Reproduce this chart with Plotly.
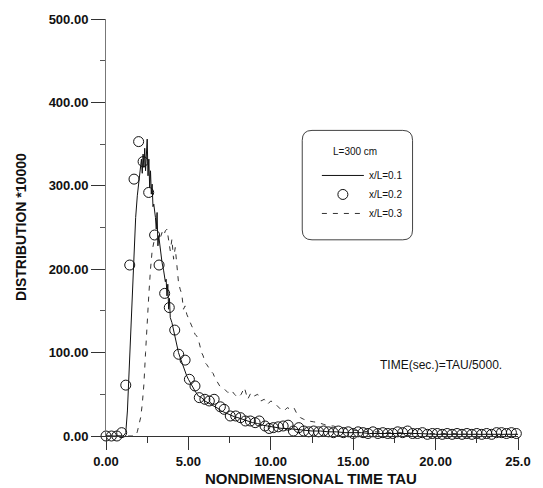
import plotly.graph_objects as go

# ---- data ----
tau_01 = [0.0, 0.5, 1.0, 1.1, 1.2, 1.3, 1.4, 1.5, 1.6, 1.7, 1.8, 1.9, 2.0, 2.1, 2.15, 2.2, 2.25, 2.3, 2.35,
          2.4, 2.45, 2.5, 2.55, 2.6, 2.65, 2.7, 2.75, 2.8, 2.85, 2.9, 3.0, 3.05, 3.1, 3.15, 3.2, 3.3, 3.4,
          3.5, 3.6, 3.65, 3.7, 3.75, 3.8, 3.85, 3.9, 4.0, 4.1, 4.2, 4.3, 4.4, 4.5, 4.6, 4.7, 4.8, 4.9, 5.0,
          5.2, 5.4, 5.6, 5.8, 6.0, 6.2, 6.4, 6.6, 6.8, 7.0, 7.2, 7.4, 7.6, 7.8, 8.0, 8.3, 8.6, 8.9, 9.2,
          9.5, 9.8, 10.1, 10.4, 10.7, 11.0, 11.5, 12.0, 12.5, 13.0, 13.5, 14.0, 14.5, 15.0, 15.5, 16.0,
          17.0, 18.0, 19.0, 20.0, 21.0, 22.0, 23.0, 24.0, 25.0]
dist_01 = [0, 0, 0, 1, 4, 30, 80, 135, 185, 228, 262, 288, 305, 318, 332, 315, 338, 322, 345,
           318, 336, 356, 312, 332, 298, 318, 290, 302, 275, 278, 262, 248, 268, 228, 240, 222, 208,
           198, 185, 188, 168, 182, 152, 165, 142, 136, 126, 118, 108, 100, 94, 88, 84, 78, 72, 68,
           60, 54, 48, 46, 42, 40, 38, 36, 33, 30, 28, 27, 25, 23, 22, 20, 18, 16, 15,
           13, 12, 11, 10, 9, 9, 8, 7, 6, 6, 5, 5, 4, 4, 4, 3,
           3, 3, 3, 2, 2, 2, 2, 2, 2]

tau_02 = [0.0, 0.33, 0.66, 0.95, 1.2, 1.44, 1.70, 1.98, 2.25, 2.59, 2.95, 3.22, 3.56, 3.84, 4.17, 4.41,
          4.8, 5.06, 5.4, 5.66, 6.0, 6.27, 6.56, 6.94, 7.17, 7.54, 7.87, 8.16, 8.46, 8.76, 9.05, 9.3,
          9.65, 9.9, 10.15, 10.45, 10.75, 11.05, 11.37, 11.7, 12.0, 12.3, 12.6, 12.9, 13.2, 13.5, 13.8,
          14.1, 14.4, 14.7, 15.0, 15.3, 15.6, 15.9, 16.2, 16.5, 16.8, 17.1, 17.4, 17.7, 18.0, 18.3,
          18.6, 18.9, 19.2, 19.5, 19.8, 20.1, 20.4, 20.7, 21.0, 21.3, 21.6, 21.9, 22.2, 22.5, 22.8,
          23.1, 23.4, 23.7, 24.0, 24.3, 24.6, 24.9]
dist_02 = [0, 0, 0, 4, 61, 205, 308, 353, 329, 292, 241, 205, 171, 154, 127, 98,
           91, 68, 60, 46, 44, 42, 44, 35, 32, 24, 24, 22, 18, 18, 16, 18,
           12, 9, 10, 11, 12, 13, 6, 10, 6, 5, 6, 5, 6, 5, 4,
           6, 4, 5, 3, 5, 4, 3, 5, 3, 4, 3, 3, 5, 4, 6,
           3, 3, 4, 2, 3, 3, 2, 3, 2, 3, 2, 3, 2, 3, 2,
           3, 2, 4, 4, 3, 4, 3]

tau_03 = [0.0, 1.0, 1.8, 1.9, 2.0, 2.1, 2.2, 2.3, 2.4, 2.5, 2.6, 2.7, 2.8, 2.9, 3.0, 3.1, 3.2, 3.3,
          3.4, 3.5, 3.6, 3.7, 3.8, 3.9, 4.0, 4.1, 4.2, 4.3, 4.4, 4.5, 4.6, 4.7, 4.8, 4.9, 5.0, 5.1,
          5.2, 5.3, 5.4, 5.5, 5.6, 5.7, 5.8, 5.9, 6.0, 6.1, 6.2, 6.3, 6.4, 6.5, 6.6, 6.7, 6.8, 6.9,
          7.0, 7.2, 7.4, 7.6, 7.8, 8.0, 8.2, 8.4, 8.6, 8.8, 9.0, 9.2, 9.4, 9.6, 9.8, 10.0, 10.2,
          10.4, 10.6, 10.8, 11.0, 11.2, 11.4, 11.6, 11.8, 12.0, 12.3, 12.6, 12.9, 13.2, 13.5, 13.8,
          14.1, 14.4, 14.7, 15.0, 15.5, 16.0, 16.5, 17.0, 17.5, 18.0, 19.0, 20.0, 21.0, 22.0, 23.0,
          24.0, 25.0]
dist_03 = [0, 0, 0, 5, 12, 22, 38, 62, 100, 140, 170, 200, 222, 232, 238, 236, 242, 238,
           244, 240, 246, 248, 232, 222, 236, 212, 226, 200, 184, 176, 170, 152, 156, 146, 142, 136,
           132, 128, 122, 120, 116, 108, 100, 96, 88, 86, 82, 80, 77, 75, 70, 66, 64, 60,
           58, 56, 52, 55, 50, 46, 50, 58, 44, 52, 48, 50, 42, 44, 38, 42, 40,
           36, 32, 30, 34, 32, 34, 26, 22, 20, 18, 17, 16, 14, 12, 12,
           10, 10, 8, 7, 6, 5, 5, 4, 4, 4, 3, 3, 3, 2, 2,
           2, 2]

x_tick_vals = [0, 5, 10, 15, 20, 25]
x_tick_text = ["0.00", "5.00", "10.00", "15.00", "20.00", "25.0"]
y_tick_vals = [0, 100, 200, 300, 400, 500]

FONT = "Liberation Sans"

fig = go.Figure()
fig.add_trace(go.Scatter(x=tau_01, y=dist_01, mode="lines", name="x/L=0.1",
                         line=dict(color="#111", width=1), cliponaxis=False))
fig.add_trace(go.Scatter(x=tau_02, y=dist_02, mode="markers", name="x/L=0.2",
                         marker=dict(symbol="circle-open", size=10, color="#111",
                                     line=dict(width=1, color="#111")), cliponaxis=False))
fig.add_trace(go.Scatter(x=tau_03, y=dist_03, mode="lines", name="x/L=0.3",
                         line=dict(color="#333", width=1, dash="5px,6px"), cliponaxis=False))

W, H = 543, 488
ml, mr, mt, mb = 106, 15, 13, 52
pw, ph = W - ml - mr, H - mt - mb

def px(xp):
    return (xp - ml) / pw

def py(yp):
    return (H - mb - yp) / ph

# rounded legend box
x0, x1 = px(307), px(420)
y0, y1 = py(237), py(126)
rx, ry = 10 / pw, 10 / ph
path = (f"M{x0+rx},{y1} L{x1-rx},{y1} Q{x1},{y1} {x1},{y1-ry} L{x1},{y0+ry} "
        f"Q{x1},{y0} {x1-rx},{y0} L{x0+rx},{y0} Q{x0},{y0} {x0},{y0+ry} "
        f"L{x0},{y1-ry} Q{x0},{y1} {x0+rx},{y1} Z")

fig.update_layout(
    width=W, height=H,
    margin=dict(l=ml, r=mr, t=mt, b=mb),
    paper_bgcolor="white", plot_bgcolor="white",
    font=dict(family=FONT, color="#111"),
    showlegend=True,
    legend=dict(x=px(322), y=py(157), xanchor="left", yanchor="top",
                bgcolor="rgba(0,0,0,0)", borderwidth=0, itemwidth=42,
                tracegroupgap=0,
                font=dict(size=10, family=FONT, color="#111")),
    shapes=[dict(type="path", xref="paper", yref="paper", path=path,
                 line=dict(color="#444", width=1))],
    xaxis=dict(range=[0, 25], showgrid=False, zeroline=False,
               showline=True, linecolor="#333", linewidth=1,
               ticks="outside", ticklen=13, tickcolor="#333", tickwidth=1,
               tickvals=x_tick_vals, ticktext=x_tick_text,
               tickfont=dict(size=13, family=FONT, weight="bold", color="#111"),
               minor=dict(dtick=2.5, tick0=0, ticks="outside", ticklen=6, tickcolor="#333"),
               ),
    yaxis=dict(range=[0, 500], showgrid=False, zeroline=False,
               showline=True, linecolor="#777", linewidth=1,
               ticks="outside", ticklen=14, tickcolor="#333", tickwidth=1,
               tickvals=y_tick_vals, tickformat=".2f",
               tickfont=dict(size=13, family=FONT, weight="bold", color="#111"),
               minor=dict(dtick=50, tick0=0, ticks="outside", ticklen=5, tickcolor="#555"),
               ),
    annotations=[
        dict(text="L=300 cm", xref="paper", yref="paper",
             x=px(361), y=py(147), xanchor="center", yanchor="middle", showarrow=False,
             font=dict(size=10, family=FONT, color="#111")),
        dict(text="NONDIMENSIONAL TIME TAU", xref="paper", yref="paper",
             x=px(316), y=py(479), xanchor="center", yanchor="middle", showarrow=False,
             font=dict(size=15, family=FONT, weight="bold", color="#111")),
        dict(text="DISTRIBUTION *10000", xref="paper", yref="paper", textangle=-90,
             x=px(19), y=py(224), xanchor="center", yanchor="middle", showarrow=False,
             font=dict(size=14, family=FONT, weight="bold", color="#111")),
        dict(text="TIME(sec.)=TAU/5000.", xref="paper", yref="paper",
             x=px(385), y=py(364), xanchor="left", yanchor="middle", showarrow=False,
             font=dict(size=12, family=FONT, color="#111")),
    ],
)

fig.write_html("out.html")
